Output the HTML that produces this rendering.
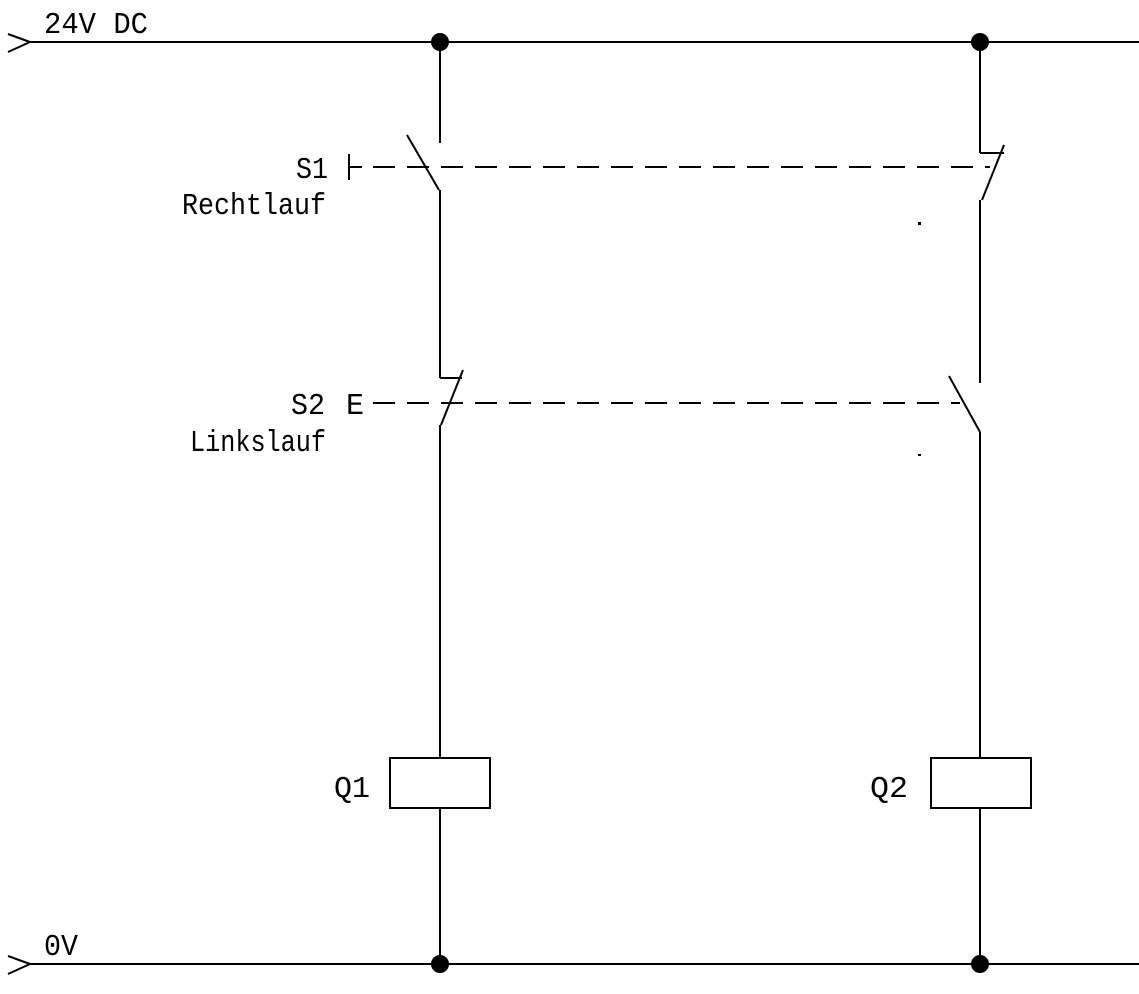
<!DOCTYPE html>
<html><head><style>
html,body{margin:0;padding:0;background:#fff;}
svg{display:block}
text{font-family:"Liberation Mono",monospace;font-size:31px;fill:#000;}
</style></head><body>
<svg width="1139" height="994" viewBox="0 0 1139 994" xmlns="http://www.w3.org/2000/svg">
<g stroke="#000" stroke-width="2" fill="none">
<line x1="30" y1="42" x2="1139" y2="42"/>
<line x1="30" y1="964" x2="1139" y2="964"/>
<polyline points="8,34 30,42 8,52"/>
<polyline points="8,956 30,964 8,974"/>
<line x1="440" y1="42" x2="440" y2="143"/>
<line x1="407" y1="135" x2="439" y2="190"/>
<line x1="440" y1="190" x2="440" y2="378"/>
<line x1="440" y1="378" x2="462" y2="378"/>
<line x1="463" y1="370" x2="441" y2="425"/>
<line x1="440" y1="425" x2="440" y2="758"/>
<rect x="390" y="758" width="100" height="50"/>
<line x1="440" y1="808" x2="440" y2="964"/>
<line x1="980" y1="42" x2="980" y2="153"/>
<line x1="980" y1="153" x2="1004" y2="153"/>
<line x1="1004" y1="145" x2="982" y2="200"/>
<line x1="980" y1="200" x2="980" y2="383"/>
<line x1="949" y1="376" x2="980" y2="432"/>
<line x1="980" y1="432" x2="980" y2="758"/>
<rect x="931" y="758" width="100" height="50"/>
<line x1="980" y1="808" x2="980" y2="964"/>
<line x1="349" y1="154" x2="349" y2="180"/>
<line x1="349" y1="167" x2="362" y2="167"/>
<line x1="373" y1="167" x2="990" y2="167" stroke-dasharray="22,12"/>
<line x1="373" y1="403" x2="960" y2="403" stroke-dasharray="22,12"/>
</g>
<g fill="#000">
<circle cx="440" cy="42" r="9"/><circle cx="980" cy="42" r="9"/>
<circle cx="440" cy="964" r="9"/><circle cx="980" cy="964" r="9"/>
<rect x="918" y="222" width="3" height="3"/>
<rect x="918" y="454" width="3" height="2"/>
</g>
<text x="44" y="33" textLength="104" lengthAdjust="spacingAndGlyphs">24V DC</text>
<text x="44" y="955" textLength="34" lengthAdjust="spacingAndGlyphs">0V</text>
<text x="296" y="178" textLength="32" lengthAdjust="spacingAndGlyphs">S1</text>
<text x="182" y="214" textLength="144" lengthAdjust="spacingAndGlyphs">Rechtlauf</text>
<text x="291" y="414" textLength="34" lengthAdjust="spacingAndGlyphs">S2</text>
<text x="346" y="414" textLength="18" lengthAdjust="spacingAndGlyphs">E</text>
<text x="190" y="451" textLength="136" lengthAdjust="spacingAndGlyphs">Linkslauf</text>
<text x="334" y="797" textLength="36" lengthAdjust="spacingAndGlyphs">Q1</text>
<text x="870" y="797" textLength="38" lengthAdjust="spacingAndGlyphs">Q2</text>
</svg>
</body></html>
